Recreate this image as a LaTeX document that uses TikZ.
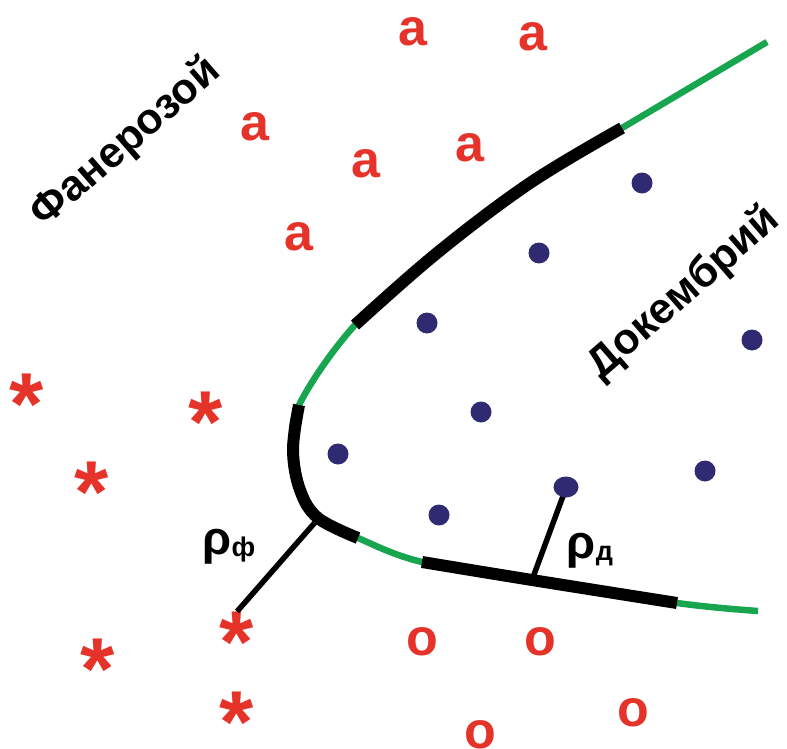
\documentclass[tikz,border=0pt]{standalone}
\usepackage{fontspec}
\setmainfont{Liberation Sans}
\usetikzlibrary{shapes.geometric}
\definecolor{mred}{HTML}{E5332A}
\definecolor{mgreen}{HTML}{17A550}
\definecolor{mnavy}{HTML}{2F2A72}

\begin{document}
\begin{tikzpicture}[x=1pt,y=-1pt,
  sym/.style={text=mred,font=\fontsize{52}{52}\selectfont\bfseries,inner sep=0pt},
  star/.style={text=mred,font=\fontsize{88}{88}\selectfont\bfseries,inner sep=0pt,yshift=-12pt},
  dot/.style={circle,fill=mnavy,minimum size=21pt,inner sep=0pt},
  era/.style={font=\fontsize{43}{43}\selectfont\bfseries,rotate=41},
  rho/.style={font=\fontsize{47}{47}\selectfont\bfseries,inner sep=0pt},
  young/.style={mgreen,line width=6.5pt},
  old/.style={black,line width=12pt},
  rad/.style={black,line width=5.5pt}
]
\useasboundingbox (0,0) rectangle (787,749);
% boundary curve: green, with black stretches on top
\draw[young] plot[smooth,tension=0.6] coordinates {(767,42) (622,128) (530,183)
  (437,253) (355,325) (299,405) (293,450) (300,490) (318,518) (358,538)
  (422,562) (532,580) (677,603) (758,611)};
\draw[old] plot[smooth,tension=0.6] coordinates {(622,128) (530,183) (437,253) (355,325)};
\draw[old] plot[smooth,tension=0.6] coordinates {(299,405) (293,450) (300,490) (318,518) (358,538)};
\draw[old] plot[smooth,tension=0.6] coordinates {(422,562) (532,580) (677,603)};
\coordinate (pf) at (318,519);
\coordinate (pd) at (532,580);

\node[era] (phan) at (126,143) {Фанерозой};
\node[era] (prec) at (684,293) {Докембрий};

\node[sym] (a1) at (413,32) {a}; \node[sym] (a2) at (533,37) {a};
\node[sym] (a3) at (255,127) {a}; \node[sym] (a4) at (366,164) {a};
\node[sym] (a5) at (470,148) {a}; \node[sym] (a6) at (299,237) {a};

\node[star] (s1) at (27,392) {*}; \node[star] (s2) at (206,410) {*};
\node[star] (s3) at (92,480) {*}; \node[star] (s4) at (237,630) {*};
\node[star] (s5) at (98,657) {*}; \node[star] (s6) at (237,710) {*};

\node[sym] (o1) at (422,642) {o}; \node[sym] (o2) at (540,642) {o};
\node[sym] (o3) at (633,713) {o}; \node[sym] (o4) at (480,735) {o};

\draw[rad] (pf) -- (s4.north);
\draw[rad] (pd) -- (566,488);

\node[dot] (d1) at (642,183) {}; \node[dot] (d2) at (539,253) {};
\node[dot] (d3) at (427,323) {}; \node[dot] (d4) at (752,340) {};
\node[dot] (d5) at (481,412) {}; \node[dot] (d6) at (338,454) {};
\node[dot] (d7) at (705,471) {}; \node[dot] (d8) at (439,515) {};
\node[ellipse,fill=mnavy,minimum width=25pt,minimum height=21pt,inner sep=0pt]
  (d9) at (566,487) {};

\node[rho] (rf) at (229,547) {ρ\raisebox{-2pt}{\fontsize{27}{27}\selectfont ф}};
\node[rho] (rd) at (590,551) {ρ\raisebox{-2pt}{\fontsize{27}{27}\selectfont д}};
\end{tikzpicture}
\end{document}
